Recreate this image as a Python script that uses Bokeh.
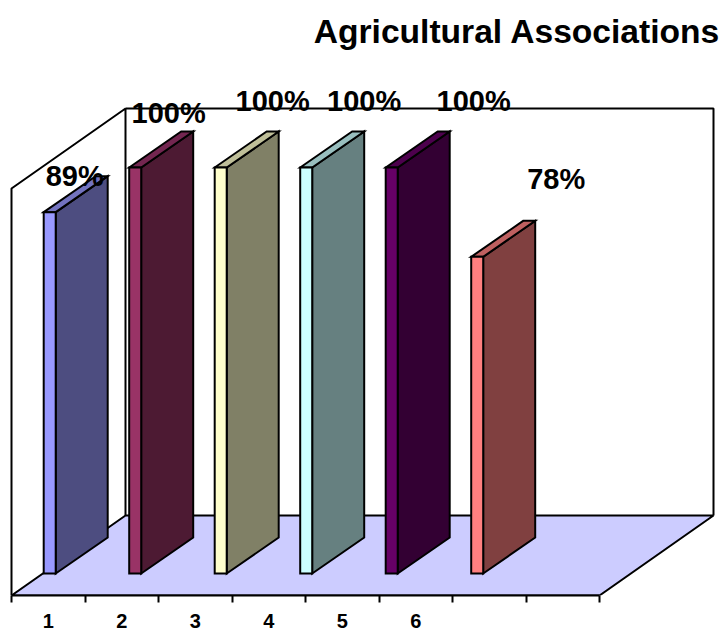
from bokeh.plotting import figure
from bokeh.embed import file_html
from bokeh.resources import INLINE
from bokeh.core.properties import value
from bokeh.models import FixedTicker, LinearAxis, Range1d

# Chart content
title = "Agricultural Associations"
associations = ["1", "2", "3", "4", "5", "6"]
percent = [89, 100, 100, 100, 100, 78]
front_colors = ["#9999FF", "#993366", "#FFFFCC", "#CCFFFF", "#660066", "#FF8080"]
top_colors = ["#7373BF", "#732650", "#BFBF99", "#99BFBF", "#4D004D", "#BF6060"]
side_colors = ["#4D4D80", "#4D1A33", "#808066", "#668080", "#330033", "#804040"]

# Vertical scale: 4.06 px per percent, zero sits 58 px above the page's lower edge
W, H, AXIS_H = 727, 631, 36
PX_PER_PCT = 4.06
ZERO_Y = 573
FRAME_BOTTOM = 595


def pct(px):
    """Percent value lying at a given distance from the top of the page."""
    return (ZERO_Y - px) / PX_PER_PCT


p = figure(width=W, height=H, output_backend="svg", toolbar_location=None,
           x_range=Range1d(0, W), y_range=Range1d(pct(FRAME_BOTTOM), pct(0)),
           x_axis_type=None, y_axis_type=None,
           min_border_left=0, min_border_right=0, min_border_top=0,
           min_border_bottom=AXIS_H)
p.grid.visible = False
p.outline_line_color = None
p.background_fill_color = "white"
p.border_fill_color = "white"

# Box of the 3D chart: front plane and the depth shift towards the back wall
BOX_L, BOX_R = 11, 599
BOX_BASE = pct(FRAME_BOTTOM)
BOX_TOP = pct(188)
BOX_DX, BOX_DV = 114, 80 / PX_PER_PCT

p.patch([BOX_L, BOX_L + BOX_DX, BOX_R + BOX_DX, BOX_R],
        [BOX_BASE, BOX_BASE + BOX_DV, BOX_BASE + BOX_DV, BOX_BASE],
        fill_color="#CCCCFF", line_color="black", line_width=2)
p.line([BOX_L, BOX_L, BOX_L + BOX_DX, BOX_L + BOX_DX],
       [BOX_BASE, BOX_TOP, BOX_TOP + BOX_DV, BOX_BASE + BOX_DV],
       line_color="black", line_width=2)
p.line([BOX_L + BOX_DX, BOX_R + BOX_DX, BOX_R + BOX_DX],
       [BOX_TOP + BOX_DV, BOX_TOP + BOX_DV, BOX_BASE + BOX_DV],
       line_color="black", line_width=2)

# Bars: front face, lid and side panel of each one
BAR_W, BAR_DX, BAR_DV = 12, 52, 36 / PX_PER_PCT
lefts = [43.2 + 85.5 * i for i in range(len(percent))]
for x, v, fc, tc, sc in zip(lefts, percent, front_colors, top_colors, side_colors):
    r = x + BAR_W
    p.patch([r, r + BAR_DX, r + BAR_DX, r], [0, BAR_DV, v + BAR_DV, v],
            fill_color=sc, line_color="black", line_width=2, line_join="miter")
    p.patch([x, x + BAR_DX, r + BAR_DX, r], [v, v + BAR_DV, v + BAR_DV, v],
            fill_color=tc, line_color="black", line_width=2, line_join="miter")
    p.patch([x, r, r, x], [0, 0, v, v],
            fill_color=fc, line_color="black", line_width=2, line_join="miter")

# Value labels, each nudged off its bar
label_dx = [31, 39.5, 58, 64, 88, 85]
label_y = [175, 112, 100, 100, 100, 178]
p.text([x + d for x, d in zip(lefts, label_dx)], [pct(y) for y in label_y],
       text=[f"{v}%" for v in percent], text_font=value("Liberation Sans"),
       text_font_style="bold", text_font_size="29px", text_color="black",
       text_align="center", text_baseline="middle")

p.text([720], [pct(31)], text=[title], text_font=value("Liberation Sans"),
       text_font_style="bold", text_font_size="33.6px", text_color="black",
       text_align="right", text_baseline="middle")

# Category axis: boundary ticks between slots, labels centred in the slots
SLOT = 73.5
centers = [BOX_L + SLOT * (i + 0.5) for i in range(len(associations))]
axis = LinearAxis(
    ticker=FixedTicker(ticks=centers,
                       minor_ticks=[BOX_L + SLOT * i for i in range(9)]),
    major_label_overrides={c: s for c, s in zip(centers, associations)},
    bounds=(BOX_L, BOX_R),
    axis_line_color="black", axis_line_width=2,
    major_tick_in=0, major_tick_out=0,
    minor_tick_in=0, minor_tick_out=7, minor_tick_line_color="black",
    minor_tick_line_width=2,
    major_label_standoff=11,
    major_label_text_font="Liberation Sans",
    major_label_text_font_style="bold",
    major_label_text_font_size="20px",
    major_label_text_color="black",
)
p.add_layout(axis, "below")

open("out.html", "w").write(file_html(p, INLINE))
